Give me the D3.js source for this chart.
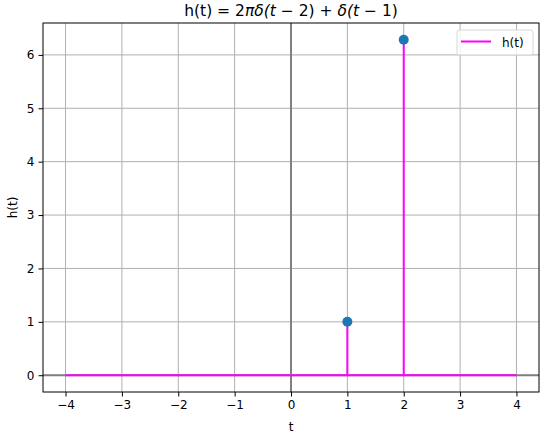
<!DOCTYPE html>
<html>
<head>
<meta charset="utf-8">
<script src="https://cdn.jsdelivr.net/npm/d3@7"></script>
<style>
  body { margin: 0; background: #fff; }
  text { font-family: "DejaVu Sans", sans-serif; }
</style>
</head>
<body>
<div id="chart"></div>
<script>
// data for h(t) = 2*pi*delta(t-2) + delta(t-1)
var tPoints = [-4, 1, 1, 1, 2, 2, 2, 4];
var hPoints = [0, 0, 1, 0, 0, 2 * Math.PI, 0, 0];
var impulseT = [1, 2];
var impulseH = [1, 2 * Math.PI];
var xTicks = [-4, -3, -2, -1, 0, 1, 2, 3, 4];
var yTicks = [0, 1, 2, 3, 4, 5, 6];

var svgWidth = 544;
var svgHeight = 436;

var margin = { top: 23, right: 5, bottom: 44, left: 43 };
var width = svgWidth - margin.left - margin.right;
var height = svgHeight - margin.top - margin.bottom;

var svg = d3.select("#chart")
  .append("svg")
  .attr("width", svgWidth)
  .attr("height", svgHeight);

var chartGroup = svg.append("g")
  .attr("transform", `translate(${margin.left}, ${margin.top})`);

var ymax = 2 * Math.PI;
var pad = ymax * 0.05;
var xScale = d3.scaleLinear().domain([-4.4, 4.4]).range([0, width]);
var yScale = d3.scaleLinear().domain([-pad, ymax + pad]).range([height, 0]);

// grid
chartGroup.append("g")
  .selectAll("line")
  .data(xTicks)
  .enter()
  .append("line")
  .attr("x1", d => xScale(d)).attr("x2", d => xScale(d))
  .attr("y1", 0).attr("y2", height)
  .attr("stroke", "#b0b0b0").attr("stroke-width", 1);

chartGroup.append("g")
  .selectAll("line")
  .data(yTicks)
  .enter()
  .append("line")
  .attr("x1", 0).attr("x2", width)
  .attr("y1", d => yScale(d)).attr("y2", d => yScale(d))
  .attr("stroke", "#b0b0b0").attr("stroke-width", 1);

// axis lines through origin
chartGroup.append("line")
  .attr("x1", 0).attr("x2", width)
  .attr("y1", yScale(0)).attr("y2", yScale(0))
  .attr("stroke", "gray").attr("stroke-width", 2);

chartGroup.append("line")
  .attr("x1", xScale(0)).attr("x2", xScale(0))
  .attr("y1", 0).attr("y2", height)
  .attr("stroke", "gray").attr("stroke-width", 2);

// signal line
var line = d3.line()
  .x((d, i) => xScale(tPoints[i]))
  .y((d, i) => yScale(hPoints[i]));

chartGroup.append("path")
  .datum(tPoints)
  .attr("d", line)
  .attr("fill", "none")
  .attr("stroke", "#ff00ff")
  .attr("stroke-width", 2);

// impulse markers
chartGroup.selectAll("circle")
  .data(impulseT)
  .enter()
  .append("circle")
  .attr("cx", d => xScale(d))
  .attr("cy", (d, i) => yScale(impulseH[i]))
  .attr("r", 5)
  .attr("fill", "#1f77b4");

// axes
var bottomAxis = d3.axisBottom(xScale).tickValues(xTicks)
  .tickSize(4.5).tickPadding(4)
  .tickFormat(d => d < 0 ? "\u2212" + Math.abs(d) : d);
var leftAxis = d3.axisLeft(yScale).tickValues(yTicks)
  .tickSize(4.5).tickPadding(4)
  .tickFormat(d3.format("d"));

var xAxis = chartGroup.append("g")
  .attr("transform", `translate(0, ${height})`)
  .call(bottomAxis);
var yAxis = chartGroup.append("g").call(leftAxis);

[xAxis, yAxis].forEach(function(ax) {
  ax.select(".domain").remove();
  ax.selectAll("line").attr("stroke", "#000").attr("stroke-width", 1);
  ax.selectAll("text").attr("font-size", "12px").attr("fill", "#000")
    .attr("font-family", "DejaVu Sans");
});

// frame
chartGroup.append("rect")
  .attr("width", width).attr("height", height)
  .attr("fill", "none").attr("stroke", "#000").attr("stroke-width", 1);

// legend
var legend = chartGroup.append("g")
  .attr("transform", `translate(${width - 82}, 7)`);
legend.append("rect")
  .attr("width", 76).attr("height", 25).attr("rx", 2.5)
  .attr("fill", "#fff").attr("fill-opacity", 0.8)
  .attr("stroke", "#d6d6d6").attr("stroke-width", 1);
legend.append("line")
  .attr("x1", 4).attr("x2", 34).attr("y1", 11.5).attr("y2", 11.5)
  .attr("stroke", "#ff00ff").attr("stroke-width", 2);
legend.append("text")
  .attr("x", 45).attr("y", 16.5)
  .attr("font-size", "12px")
  .text("h(t)");

// labels
svg.append("text")
  .attr("x", margin.left + width / 2)
  .attr("y", 431)
  .attr("text-anchor", "middle")
  .attr("font-size", "12px")
  .text("t");

svg.append("text")
  .attr("transform", "rotate(-90)")
  .attr("x", -(margin.top + height / 2))
  .attr("y", 17)
  .attr("text-anchor", "middle")
  .attr("font-size", "12px")
  .text("h(t)");

var title = svg.append("text")
  .attr("x", margin.left + width / 2)
  .attr("y", 16)
  .attr("text-anchor", "middle")
  .attr("font-size", "15.5px");
title.append("tspan").text("h(t) = 2");
title.append("tspan").attr("font-style", "italic").text("\u03c0\u03b4(t");
title.append("tspan").text(" \u2212 2) + ");
title.append("tspan").attr("font-style", "italic").text("\u03b4(t");
title.append("tspan").text(" \u2212 1)");
</script>
</body>
</html>
